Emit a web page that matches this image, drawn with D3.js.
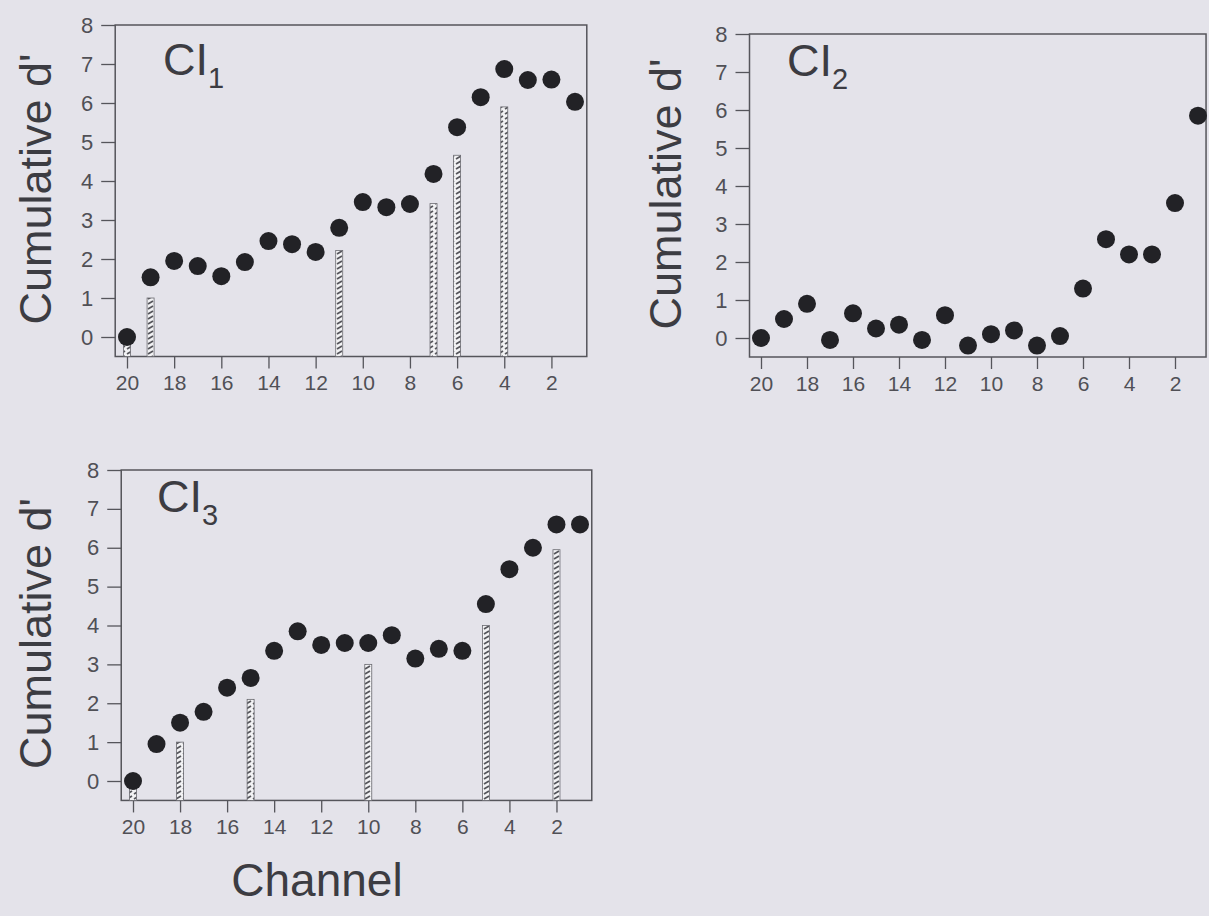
<!DOCTYPE html>
<html>
<head>
<meta charset="utf-8">
<script src="https://cdn.jsdelivr.net/npm/d3@7"></script>
<style>
  html, body { margin: 0; padding: 0; background: #e4e3ea; }
  svg { display: block; font-family: "Liberation Sans", Arial, sans-serif; }
</style>
</head>
<body>
<script>
// Channels run 20 -> 1 along x
const channels = d3.range(20, 0, -1);
const xTickValues = [20, 18, 16, 14, 12, 10, 8, 6, 4, 2];
const yTickValues = [0, 1, 2, 3, 4, 5, 6, 7, 8];

// Cumulative d' per channel (channel 20 first)
const ci1Values = [0, 1.53, 1.95, 1.82, 1.56, 1.92, 2.46, 2.38, 2.18, 2.8,
                   3.46, 3.33, 3.41, 4.18, 5.38, 6.15, 6.87, 6.59, 6.6, 6.03];
const ci2Values = [0, 0.5, 0.9, -0.05, 0.65, 0.25, 0.35, -0.05, 0.6, -0.2,
                   0.1, 0.2, -0.2, 0.05, 1.3, 2.6, 2.2, 2.2, 3.55, 5.85];
const ci3Values = [0, 0.95, 1.5, 1.78, 2.4, 2.65, 3.35, 3.85, 3.5, 3.55,
                   3.55, 3.75, 3.15, 3.4, 3.35, 4.55, 5.45, 6.0, 6.6, 6.6];

// Hatched bars (selected channels)
const ci1BarChannels = [20, 19, 11, 7, 6, 4];
const ci1BarValues = [0, 1.0, 2.22, 3.42, 4.66, 5.9];
const ci2BarChannels = [];
const ci2BarValues = [];
const ci3BarChannels = [20, 18, 15, 10, 5, 2];
const ci3BarValues = [0, 1.0, 2.1, 3.0, 4.0, 5.95];

const W = 1209, H = 916;
const svg = d3.select('body').append('svg').attr('width', W).attr('height', H);

const defs = svg.append('defs');
const pat = defs.append('pattern')
  .attr('id', 'hatch')
  .attr('patternUnits', 'userSpaceOnUse')
  .attr('width', 7).attr('height', 5);
pat.append('rect').attr('width', 7).attr('height', 5).attr('fill', '#f2f2f4');
pat.append('path').attr('d', 'M1,4 L6,1').attr('stroke', '#55555b').attr('stroke-width', 1.8);

const panels = [
  { name: '1', values: ci1Values, barCh: ci1BarChannels, barVals: ci1BarValues,
    x0: 127, x1: 575, y0: 337, y8: 25, right: 0.5, labelX: 35, titleX: 163, titleY: 75 },
  { name: '2', values: ci2Values, barCh: ci2BarChannels, barVals: ci2BarValues,
    x0: 761, x1: 1198, y0: 338, y8: 34, right: 0.65, labelX: 665, titleX: 787, titleY: 76 },
  { name: '3', values: ci3Values, barCh: ci3BarChannels, barVals: ci3BarValues,
    x0: 133, x1: 580, y0: 781, y8: 470, right: 0.5, labelX: 35, titleX: 157, titleY: 512 }
];

panels.forEach(p => {
  const x = d3.scaleLinear().domain([20, 1]).range([p.x0, p.x1]);
  const y = d3.scaleLinear().domain([0, 8]).range([p.y0, p.y8]);
  const left = x(20.5), right = x(p.right), top = y(8), bottom = y(-0.5);
  const g = svg.append('g');

  // Frame
  g.append('rect')
    .attr('x', left).attr('y', top)
    .attr('width', right - left).attr('height', bottom - top)
    .attr('fill', 'none').attr('stroke', '#55555b').attr('stroke-width', 1.5);

  // Y axis
  const yAxis = g.append('g')
    .attr('transform', `translate(${left},0)`)
    .call(d3.axisLeft(y).tickValues(yTickValues).tickSize(14).tickPadding(8).tickFormat(d3.format('d')));
  yAxis.select('.domain').remove();
  yAxis.selectAll('line').attr('stroke', '#55555b').attr('stroke-width', 1.3);
  yAxis.selectAll('text').attr('font-size', 22).attr('fill', '#505056')
    .attr('font-family', '"Liberation Sans", Arial, sans-serif');

  // X axis
  const xAxis = g.append('g')
    .attr('transform', `translate(0,${bottom})`)
    .call(d3.axisBottom(x).tickValues(xTickValues).tickSize(12).tickPadding(7).tickFormat(d3.format('d')));
  xAxis.select('.domain').remove();
  xAxis.selectAll('line').attr('stroke', '#55555b').attr('stroke-width', 1.3);
  xAxis.selectAll('text').attr('font-size', 21).attr('fill', '#505056')
    .attr('font-family', '"Liberation Sans", Arial, sans-serif');

  // Bars
  g.selectAll('.bar')
    .data(p.barCh.map((c, i) => ({ c, v: p.barVals[i] })))
    .enter().append('rect')
    .attr('class', 'bar')
    .attr('x', d => x(d.c) - 3.5)
    .attr('width', 7)
    .attr('y', d => y(d.v))
    .attr('height', d => bottom - y(d.v))
    .attr('fill', 'url(#hatch)')
    .attr('stroke', '#6a6a70').attr('stroke-width', 0.8);

  // Points
  g.selectAll('.dot')
    .data(channels.map((c, i) => ({ c, v: p.values[i] })))
    .enter().append('circle')
    .attr('class', 'dot')
    .attr('cx', d => x(d.c))
    .attr('cy', d => y(d.v))
    .attr('r', 9)
    .attr('fill', '#222226');

  // Y label
  g.append('text')
    .attr('transform', `translate(${p.labelX + 16},${(top + y(0)) / 2 + 8}) rotate(-90)`)
    .attr('text-anchor', 'middle')
    .attr('font-size', 45)
    .attr('fill', '#3c3c42')
    .text("Cumulative d'");

  // Panel title CI with subscript
  const t = g.append('text')
    .attr('x', p.titleX).attr('y', p.titleY)
    .attr('font-size', 45).attr('fill', '#3c3c42');
  t.append('tspan').text('CI');
  t.append('tspan').attr('font-size', 29).attr('dy', 13).text(p.name);
});

// X label
svg.append('text')
  .attr('x', 317).attr('y', 896)
  .attr('text-anchor', 'middle')
  .attr('font-size', 46)
  .attr('fill', '#3c3c42')
  .text('Channel');
</script>
</body>
</html>
